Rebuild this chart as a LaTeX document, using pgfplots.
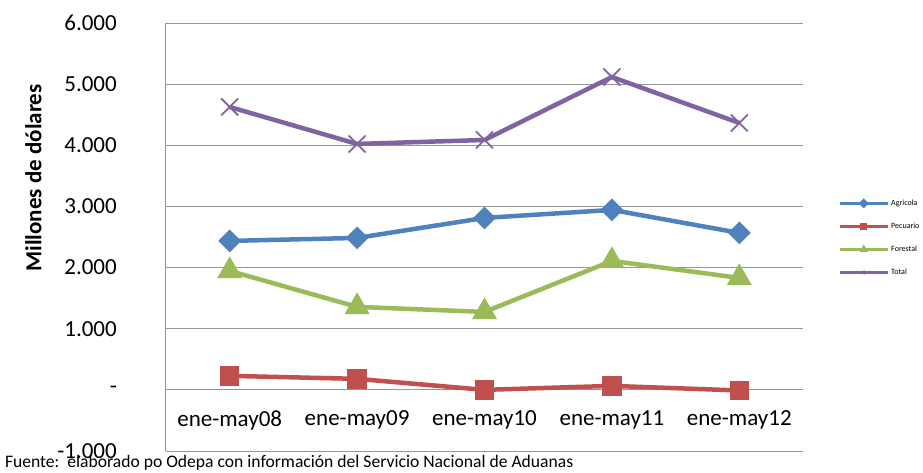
\documentclass[border=0pt]{standalone}
\usepackage{fontspec}
\setmainfont{Carlito}
\usepackage{pgfplots}
\pgfplotsset{compat=1.18}

\definecolor{agri}{HTML}{4F81BD}
\definecolor{pecu}{HTML}{C0504D}
\definecolor{fore}{HTML}{9BBB59}
\definecolor{tota}{HTML}{8064A2}
\definecolor{gridc}{HTML}{969696}

\begin{document}
\begin{tikzpicture}
\path[use as bounding box] (-166pt,-21pt) rectangle (757pt,451pt);
\begin{axis}[
    scale only axis,
    width=637pt, height=428pt,
    xmin=-0.5, xmax=4.5,
    ymin=-1000, ymax=6000,
    xtick={0,1,2,3,4},
    xticklabels={ene-may08,ene-may09,ene-may10,ene-may11,ene-may12},
    ytick={-1000,0,1000,2000,3000,4000,5000,6000},
    yticklabels={-1.000,-,1.000,2.000,3.000,4.000,5.000,6.000},
    axis x line*=bottom,
    axis y line*=left,
    x axis line style={draw=none},
    y axis line style={draw=gridc, line width=1pt},
    major tick length=0pt,
    ymajorgrids,
    grid style={gridc, line width=1pt},
    tick label style={font=\fontsize{23}{26}\selectfont},
    yticklabel style={anchor=east, inner sep=0pt, xshift=-49pt},
    xticklabel style={anchor=center, yshift=31pt},
    ylabel={\bfseries Millones de dólares},
    ylabel style={at={(axis description cs:-0.208,0.638)}, anchor=center, rotate=0, font=\fontsize{23}{26}\selectfont},
    clip=false,
    every axis plot/.append style={line width=4.5pt},
    legend style={draw=none, fill=none, at={(axis description cs:1.055,0.592)}, anchor=north west,
        font=\fontsize{8}{9}\selectfont, row sep=12pt, inner sep=0pt},
    legend cell align=left,
    legend image code/.code={\draw[#1, line width=3pt, mark size=2pt, mark repeat=2, mark phase=2]
        plot coordinates {(0pt,0pt) (24pt,0pt) (48pt,0pt)};},
]
\addplot[agri, mark=square*, mark size=5.8pt, mark options={rotate=45, solid}] coordinates {
  (0,2436) (1,2485) (2,2812) (3,2943) (4,2567)};
\addlegendentry{Agrícola}
\addplot[pecu, mark=square*, mark size=7.5pt] coordinates {
  (0,229) (1,180) (2,0) (3,65) (4,-10)};
\addlegendentry{Pecuario}
\addplot[fore, mark=triangle*, mark size=10pt] coordinates {
  (0,1945) (1,1357) (2,1275) (3,2109) (4,1831)};
\addlegendentry{Forestal}
\addplot[tota, mark=x, mark size=12pt, mark options={line width=1.8pt}] coordinates {
  (0,4627) (1,4022) (2,4087) (3,5117) (4,4365)};
\addlegendentry{Total}
\node[anchor=base west, inner sep=0pt, font=\fontsize{17.6}{20}\selectfont]
  at (axis description cs:-0.253,-0.038) {Fuente:\ \ elaborado po Odepa con información del Servicio Nacional de Aduanas};
\end{axis}
\end{tikzpicture}
\end{document}
